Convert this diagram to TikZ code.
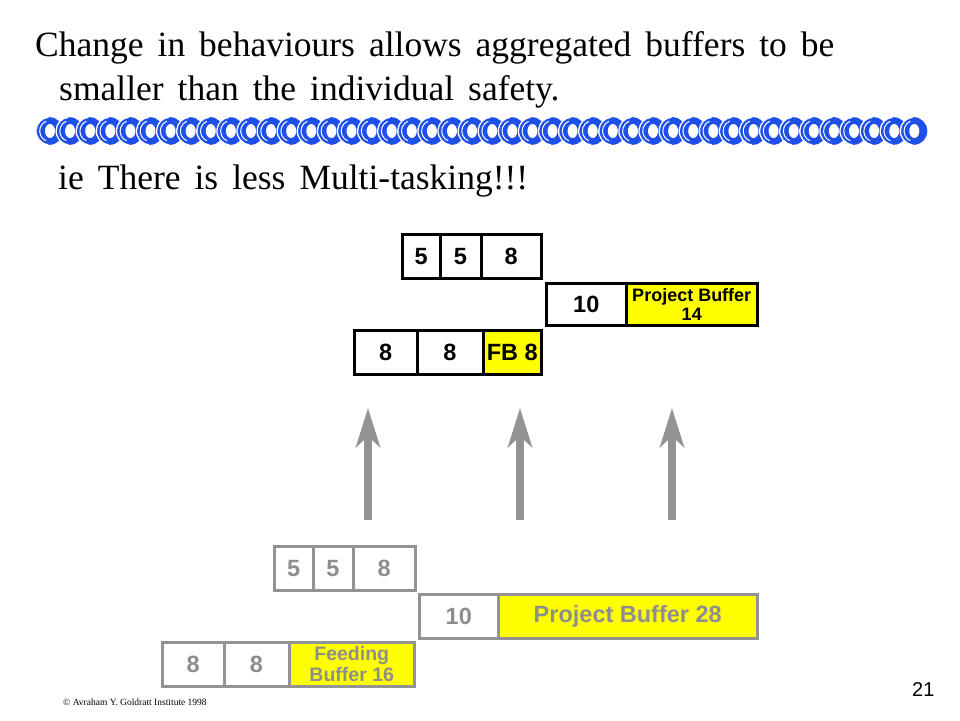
\documentclass[tikz,border=0pt]{standalone}
\usepackage{fontspec}
\setmainfont{Liberation Serif}
\newfontfamily\arialf{Liberation Sans}
\usetikzlibrary{arrows.meta}
\definecolor{chainblue}{HTML}{1E4FE8}
\definecolor{chaindark}{HTML}{1238B0}
\definecolor{ybuf}{HTML}{FFFF00}
\definecolor{gline}{HTML}{939393}
\definecolor{gtext}{HTML}{8E8E8E}
\definecolor{arrowgray}{HTML}{939393}
\newcommand\mytitlefont{\fontsize{35.5}{44}\selectfont\spaceskip 14pt\relax}
\tikzset{
  tbox/.style={draw=black, line width=3pt, fill=white, inner sep=0pt, outer sep=0pt,
    anchor=north west, font=\arialf\bfseries\fontsize{23.5}{27}\selectfont, text=black},
  tbuf/.style={tbox, fill=ybuf},
  gbox/.style={draw=gline, line width=3pt, fill=white, inner sep=0pt, outer sep=0pt,
    anchor=north west, font=\arialf\bfseries\fontsize{23.5}{27}\selectfont, text=gtext},
  gbuf/.style={gbox, fill=ybuf},
  bigarrow/.style={draw=arrowgray, line width=8pt, -{Stealth[length=39pt, width=24pt, inset=11pt]}},
  titletext/.style={anchor=base west, inner sep=0pt, font=\mytitlefont}
}
\begin{document}
\begin{tikzpicture}[x=1pt, y=-1pt]
\useasboundingbox[fill=white] (0,0) rectangle (960,720);

% title
\node[titletext] (l1) at (35,56) {Change in behaviours allows aggregated buffers to be};
\node[titletext] (l2) at (59,100) {smaller than the individual safety.};
\node[titletext] (l3) at (58,189) {ie There is less Multi-tasking!!!};

% chain
\foreach \i in {0,...,43} {
  \pgfmathsetmacro\cx{49.5+\i*20.1}
  \fill[chainblue] (\cx,131) ellipse [x radius=13.5, y radius=13.8];
  \draw[white, line width=1.3pt] ([shift={(\cx,131)}]95:13.5 and 13.8) arc [start angle=95, end angle=265, x radius=13.5, y radius=13.8];
  \fill[white] (\cx+0.5,131) ellipse [x radius=5, y radius=7];
  \draw[white, line width=1pt] ([shift={(\cx,131)}]110:9.8 and 10.4) arc [start angle=110, end angle=250, x radius=9.8, y radius=10.4];
}

% top group
\node[tbox, minimum width=37.5pt, minimum height=44pt] (t1) at (402.5,234.5) {5};
\node[tbox, minimum width=41pt, minimum height=44pt] (t2) at (440,234.5) {5};
\node[tbox, minimum width=60.5pt, minimum height=44pt] (t3) at (481,234.5) {8};
\node[tbox, minimum width=79.5pt, minimum height=42pt] (t4) at (546.5,283.5) {10};
\node[tbuf, minimum width=131.5pt, minimum height=42pt, align=center,
      font=\arialf\bfseries\fontsize{18}{19}\selectfont] (t5) at (626,283.5) {Project Buffer\\14};
\node[tbox, minimum width=62.5pt, minimum height=44pt] (t6) at (354.5,330.5) {8};
\node[tbox, minimum width=66pt, minimum height=44pt] (t7) at (417,330.5) {8};
\node[tbuf, minimum width=58.5pt, minimum height=44pt] (t8) at (483,330.5) {FB 8};

% arrows
\coordinate (a1s) at (368,520); \coordinate (a1e) at (368,408);
\coordinate (a2s) at (520,520); \coordinate (a2e) at (520,408);
\coordinate (a3s) at (672,520); \coordinate (a3e) at (672,408);
\draw[bigarrow] (a1s) -- (a1e);
\draw[bigarrow] (a2s) -- (a2e);
\draw[bigarrow] (a3s) -- (a3e);

% bottom group
\node[gbox, minimum width=38.5pt, minimum height=44pt] (b1) at (274.5,546.5) {5};
\node[gbox, minimum width=40pt, minimum height=44pt] (b2) at (313,546.5) {5};
\node[gbox, minimum width=62.5pt, minimum height=44pt] (b3) at (353,546.5) {8};
\node[gbox, minimum width=78.5pt, minimum height=44pt] (b4) at (419.5,594.5) {10};
\node[gbuf, minimum width=259.5pt, minimum height=44pt,
      font=\arialf\bfseries\fontsize{23.5}{27}\selectfont] (b5) at (498,594.5) {Project Buffer 28};
\node[gbox, minimum width=61.5pt, minimum height=44pt] (b6) at (162.5,642.5) {8};
\node[gbox, minimum width=65pt, minimum height=44pt] (b7) at (224,642.5) {8};
\node[gbuf, minimum width=125.5pt, minimum height=44pt, align=center,
      font=\arialf\bfseries\fontsize{19.5}{21}\selectfont] (b8) at (289,642.5) {Feeding\\Buffer 16};

% footer
\node[anchor=base west, inner sep=0pt, font=\fontsize{9.5}{11}\selectfont] (foot) at (63,705) {\textcopyright{} Avraham Y. Goldratt Institute 1998};
\node[anchor=base west, inner sep=0pt, font=\arialf\fontsize{20}{24}\selectfont] (pg) at (912,696) {21};
\end{tikzpicture}
\end{document}
